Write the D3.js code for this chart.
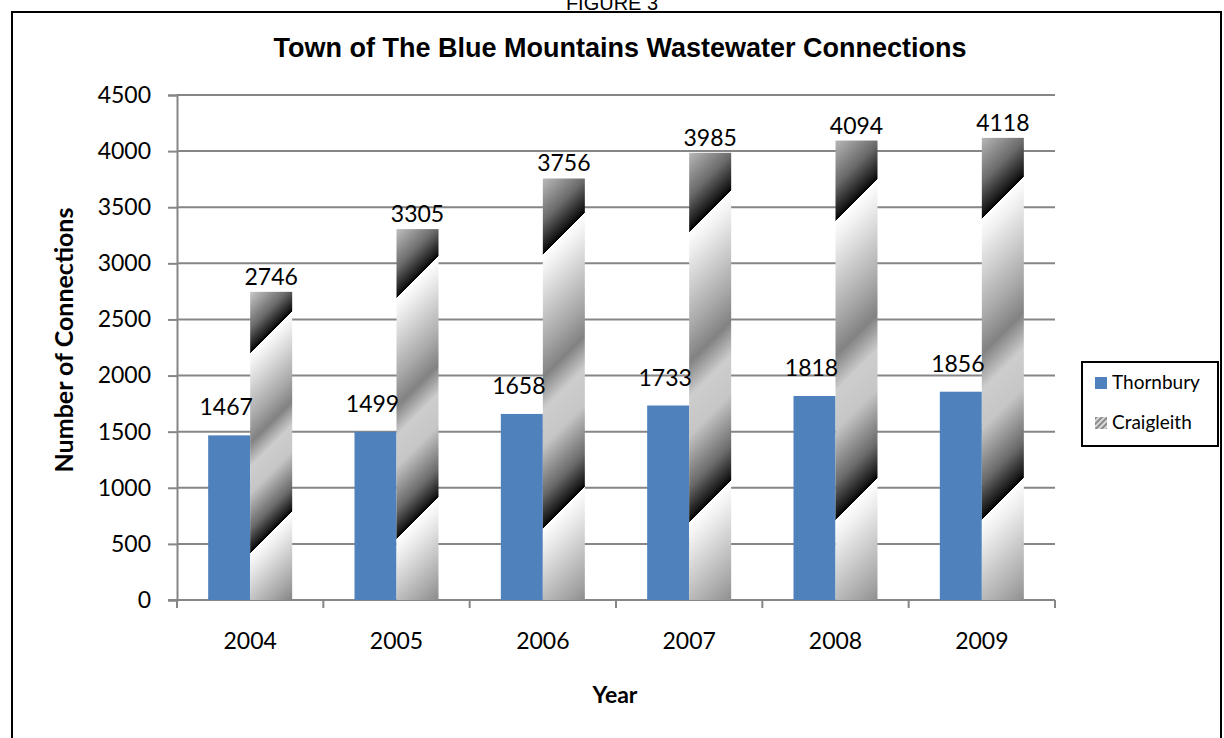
<!DOCTYPE html>
<html>
<head>
<meta charset="utf-8">
<script src="https://cdn.jsdelivr.net/npm/d3@7"></script>
<style>
  html, body { margin: 0; padding: 0; background: #fff; }
  svg { display: block; }
</style>
</head>
<body>
<svg id="chart" width="1224" height="738"></svg>
<script>
// chart data
var years = ["2004", "2005", "2006", "2007", "2008", "2009"];
var series = ["Thornbury", "Craigleith"];
var thornbury = [1467, 1499, 1658, 1733, 1818, 1856];
var craigleith = [2746, 3305, 3756, 3985, 4094, 4118];
var yTicks = [0, 500, 1000, 1500, 2000, 2500, 3000, 3500, 4000, 4500];

var svg = d3.select("#chart");
var calibri = "Lato, 'Open Sans', sans-serif";
var arial = "'Liberation Sans', Arial, sans-serif";

var margin = {left: 177, right: 1055, top: 95, bottom: 600};

var x = d3.scaleBand().domain(years).range([margin.left, margin.right]);
var bw = x.bandwidth();
var xs = d3.scaleBand().domain(series).range([bw / 2 - 42, bw / 2 + 42]);
var y = d3.scaleLinear().domain([0, 4500]).range([margin.bottom, margin.top]);

var defs = svg.append("defs");

// frame
svg.append("rect")
    .attr("x", 12).attr("y", 12)
    .attr("width", 1209).attr("height", 740)
    .attr("fill", "none").attr("stroke", "#000").attr("stroke-width", 2);

svg.append("text")
    .attr("x", 612).attr("y", 10)
    .attr("text-anchor", "middle")
    .style("font-family", arial).style("font-size", "20px")
    .text("FIGURE 3");

svg.append("text")
    .attr("x", 620).attr("y", 57)
    .attr("text-anchor", "middle")
    .style("font-family", arial).style("font-size", "27px").style("font-weight", "bold")
    .text("Town of The Blue Mountains Wastewater Connections");

// gridlines
svg.append("g")
    .selectAll("line")
    .data(yTicks.slice(1))
    .join("line")
    .attr("x1", margin.left).attr("x2", margin.right)
    .attr("y1", d => y(d)).attr("y2", d => y(d))
    .attr("stroke", "#868686").attr("stroke-width", 2);

// y axis
var yAxis = svg.append("g")
    .attr("transform", `translate(${margin.left},0)`)
    .call(d3.axisLeft(y).tickValues(yTicks).tickFormat(d3.format("d")).tickSize(9).tickPadding(17));
yAxis.select(".domain").attr("stroke", "#868686").attr("stroke-width", 2);
yAxis.selectAll(".tick line").attr("stroke", "#868686").attr("stroke-width", 2);
yAxis.selectAll("text")
    .style("font-family", calibri).style("font-size", "23px").attr("fill", "#000");

// x axis, ticks at category boundaries
var xAxisG = svg.append("g").attr("transform", `translate(0,${margin.bottom})`);
xAxisG.append("line")
    .attr("x1", margin.left - 9).attr("x2", margin.right)
    .attr("stroke", "#868686").attr("stroke-width", 2);
xAxisG.selectAll(".bt")
    .data(years.concat(["end"]))
    .join("line")
    .attr("class", "bt")
    .attr("x1", (d, i) => margin.left + i * bw).attr("x2", (d, i) => margin.left + i * bw)
    .attr("y1", 0).attr("y2", 8)
    .attr("stroke", "#868686").attr("stroke-width", 2);
xAxisG.selectAll("text")
    .data(years)
    .join("text")
    .attr("x", d => x(d) + bw / 2).attr("y", 49)
    .attr("text-anchor", "middle")
    .style("font-family", calibri).style("font-size", "23px")
    .text(d => d);

// axis titles
svg.append("text")
    .attr("x", 615).attr("y", 703)
    .attr("text-anchor", "middle")
    .style("font-family", calibri).style("font-size", "23px").style("font-weight", "bold")
    .text("Year");

svg.append("text")
    .attr("transform", "translate(73,340) rotate(-90)")
    .attr("text-anchor", "middle")
    .style("font-family", calibri).style("font-size", "25px").style("font-weight", "bold")
    .text("Number of Connections");

// thornbury bars
var tb = svg.append("g");
tb.selectAll("rect")
    .data(thornbury)
    .join("rect")
    .attr("x", (d, i) => x(years[i]) + xs("Thornbury"))
    .attr("y", d => y(d))
    .attr("width", xs.bandwidth())
    .attr("height", d => y(0) - y(d))
    .attr("fill", "#4F81BD");

// craigleith bars, each with its own repeating diagonal metallic gradient
var stops = [
    [0.00, "#ffffff"], [0.08, "#ececec"], [0.33, "#a8a8a8"], [0.45, "#828282"],
    [0.57, "#cdcdcd"], [0.70, "#c6c6c6"], [0.88, "#6a6a6a"], [0.98, "#181818"], [1.0, "#000000"]
];
craigleith.forEach(function (v, i) {
    var bx = x(years[i]) + xs("Craigleith");
    var top = y(v);
    var h = y(0) - top;
    var P = 0.65 * h;
    var cx = bx + xs.bandwidth() / 2;
    var cy = top + 0.13 * h;
    var g = defs.append("linearGradient")
        .attr("id", "cg" + i)
        .attr("gradientUnits", "userSpaceOnUse")
        .attr("spreadMethod", "repeat")
        .attr("x1", cx).attr("y1", cy)
        .attr("x2", cx + P / 2).attr("y2", cy + P / 2);
    g.selectAll("stop").data(stops).join("stop")
        .attr("offset", d => d[0]).attr("stop-color", d => d[1]);
});
var cb = svg.append("g");
cb.selectAll("rect")
    .data(craigleith)
    .join("rect")
    .attr("x", (d, i) => x(years[i]) + xs("Craigleith"))
    .attr("y", d => y(d))
    .attr("width", xs.bandwidth())
    .attr("height", d => y(0) - y(d))
    .attr("fill", (d, i) => `url(#cg${i})`);

// data labels
svg.append("g").selectAll("text")
    .data(thornbury)
    .join("text")
    .attr("x", (d, i) => x(years[i]) + xs("Thornbury") + xs.bandwidth() / 2 - 3)
    .attr("y", d => y(d) - 20)
    .attr("text-anchor", "middle")
    .style("font-family", calibri).style("font-size", "23px")
    .text(d => d);
svg.append("g").selectAll("text")
    .data(craigleith)
    .join("text")
    .attr("x", (d, i) => x(years[i]) + xs("Craigleith") + xs.bandwidth() / 2)
    .attr("y", d => y(d) - 7)
    .attr("text-anchor", "middle")
    .style("font-family", calibri).style("font-size", "23px")
    .text(d => d);

// legend
var pat = defs.append("pattern")
    .attr("id", "legpat").attr("patternUnits", "userSpaceOnUse")
    .attr("width", 4).attr("height", 4)
    .attr("patternTransform", "rotate(45)");
pat.append("rect").attr("width", 4).attr("height", 4).attr("fill", "#d8d8d8");
pat.append("rect").attr("width", 2).attr("height", 4).attr("fill", "#8a8a8a");

var leg = svg.append("g");
leg.append("rect")
    .attr("x", 1082).attr("y", 362).attr("width", 136).attr("height", 84)
    .attr("fill", "#fff").attr("stroke", "#000").attr("stroke-width", 2);
var li = leg.selectAll("g")
    .data(series)
    .join("g")
    .attr("transform", (d, i) => `translate(1095,${377 + i * 40})`);
li.append("rect")
    .attr("width", 12).attr("height", 12)
    .attr("fill", (d, i) => i === 0 ? "#4F81BD" : "url(#legpat)");
li.append("text")
    .attr("x", 17).attr("y", 12)
    .style("font-family", calibri).style("font-size", "19px")
    .text(d => d);
</script>
</body>
</html>
